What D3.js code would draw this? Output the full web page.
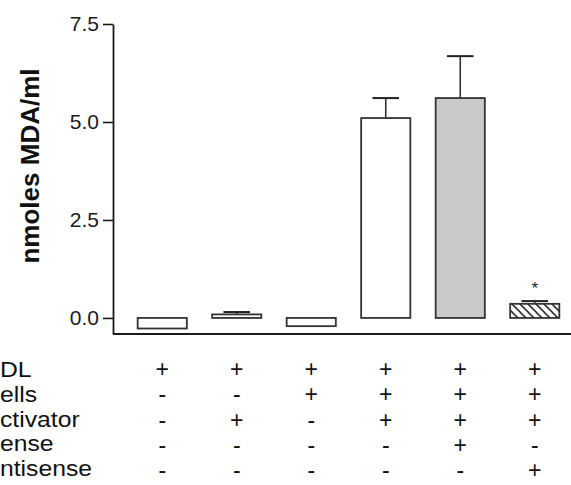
<!DOCTYPE html>
<html>
<head>
<meta charset="utf-8">
<script src="https://cdn.jsdelivr.net/npm/d3@7"></script>
<style>
  html, body { margin: 0; padding: 0; background: #fff; overflow: hidden; }
  svg { display: block; }
</style>
</head>
<body>
<div id="main"></div>
<script>
const width = 571;
const height = 485;

// data
const groups = ["g1", "g2", "g3", "g4", "g5", "g6"];
const values = [-0.27, 0.09, -0.21, 5.1, 5.61, 0.36];
const errors = [0, 0.06, 0, 0.51, 1.07, 0.07];
const fills = ["white", "white", "white", "white", "grey", "hatch"];
const marks = ["", "", "", "", "", "*"];
const yTicks = [0, 2.5, 5, 7.5];

// condition table under the chart (labels are cut at the left edge in the figure)
const rowLabels = ["DL", "ells", "ctivator", "ense", "ntisense"];
const rowSigns = [
  ["+", "+", "+", "+", "+", "+"],
  ["-", "-", "+", "+", "+", "+"],
  ["-", "+", "-", "+", "+", "+"],
  ["-", "-", "-", "-", "+", "-"],
  ["-", "-", "-", "-", "-", "+"],
];

const axisX = 113;
const font = "'Liberation Sans', Arial, sans-serif";
const svg = d3.select("#main").append("svg").attr("width", width).attr("height", height);

const defs = svg.append("defs");
const pat = defs
  .append("pattern")
  .attr("id", "hatch")
  .attr("patternUnits", "userSpaceOnUse")
  .attr("width", 8)
  .attr("height", 8);
pat.append("rect").attr("width", 8).attr("height", 8).attr("fill", "white");
pat
  .append("path")
  .attr("d", "M-2,-2 L10,10 M-2,6 L2,10 M6,-2 L10,2")
  .attr("stroke", "#333")
  .attr("stroke-width", 1.6);

const fillColor = { white: "white", grey: "#c9c9c9", hatch: "url(#hatch)" };

const xScale = d3.scaleBand().domain(groups).range([125, 572]).paddingInner(0.34).paddingOuter(0.17);
const yScale = d3.scaleLinear().domain([-0.41, 7.5]).range([334, 24]);

// y axis
const yAxis = d3
  .axisLeft(yScale)
  .tickValues(yTicks)
  .tickFormat(d3.format(".1f"))
  .tickSize(10)
  .tickSizeOuter(0)
  .tickPadding(4);

const gy = svg.append("g").attr("transform", `translate(${axisX},0)`).call(yAxis);
gy.select(".domain").attr("stroke", "#1a1a1a").attr("stroke-width", 1.8);
gy.selectAll(".tick line").attr("stroke", "#1a1a1a").attr("stroke-width", 1.6);
gy.selectAll(".tick text")
  .attr("fill", "#1a1a1a")
  .style("font-family", font)
  .style("font-size", "21px");

// x axis line (no ticks)
svg
  .append("line")
  .attr("x1", axisX)
  .attr("x2", width)
  .attr("y1", yScale.range()[0])
  .attr("y2", yScale.range()[0])
  .attr("stroke", "#1a1a1a")
  .attr("stroke-width", 1.8);

svg
  .append("text")
  .attr("transform", "translate(39, 166) rotate(-90)")
  .attr("text-anchor", "middle")
  .style("font-family", font)
  .style("font-size", "26px")
  .style("font-weight", "bold")
  .attr("fill", "#111")
  .text("nmoles MDA/ml");

const bars = groups.map((g, i) => ({ g, v: values[i], e: errors[i], f: fills[i], m: marks[i] }));

// error bars (drawn first, bar box sits on top)
const capW = xScale.bandwidth() * 0.54;
bars
  .filter((d) => d.e > 0)
  .forEach((d) => {
    const cx = xScale(d.g) + xScale.bandwidth() / 2;
    const top = yScale(d.v + d.e);
    svg
      .append("line")
      .attr("x1", cx)
      .attr("x2", cx)
      .attr("y1", yScale(d.v))
      .attr("y2", top)
      .attr("stroke", "#333")
      .attr("stroke-width", 1.6);
    svg
      .append("line")
      .attr("x1", cx - capW / 2)
      .attr("x2", cx + capW / 2)
      .attr("y1", top)
      .attr("y2", top)
      .attr("stroke", "#222")
      .attr("stroke-width", 2);
  });

svg
  .selectAll("rect.bar")
  .data(bars)
  .enter()
  .append("rect")
  .attr("class", "bar")
  .attr("x", (d) => xScale(d.g))
  .attr("width", xScale.bandwidth())
  .attr("y", (d) => yScale(Math.max(0, d.v)))
  .attr("height", (d) => Math.abs(yScale(d.v) - yScale(0)))
  .attr("fill", (d) => fillColor[d.f])
  .attr("stroke", "#333")
  .attr("stroke-width", 1.8);

svg
  .selectAll("text.mark")
  .data(bars.filter((d) => d.m))
  .enter()
  .append("text")
  .attr("class", "mark")
  .attr("x", (d) => xScale(d.g) + xScale.bandwidth() / 2)
  .attr("y", (d) => yScale(d.v + d.e) - 7)
  .attr("text-anchor", "middle")
  .style("font-family", font)
  .style("font-size", "17px")
  .attr("fill", "#222")
  .text((d) => d.m);

// condition table (the figure's lettering is a little wide, hence the x stretch)
const labelY = d3.scalePoint().domain(rowLabels).range([377, 476]);
const signY = d3.scalePoint().domain(rowLabels).range([377, 478]);
const stretch = "scale(1.15,1)";

svg
  .selectAll("text.rowlab")
  .data(rowLabels)
  .enter()
  .append("text")
  .attr("class", "rowlab")
  .attr("transform", (d) => `translate(0, ${labelY(d)}) ${stretch}`)
  .style("font-family", font)
  .style("font-size", "21.5px")
  .attr("fill", "#111")
  .text((d) => d);

rowLabels.forEach((lab, r) => {
  svg
    .selectAll(null)
    .data(rowSigns[r])
    .enter()
    .append("text")
    .attr("x", (d, i) => xScale(groups[i]) + xScale.bandwidth() / 2)
    .attr("y", signY(lab))
    .attr("text-anchor", "middle")
    .style("font-family", font)
    .style("font-size", "23px")
    .attr("fill", "#111")
    .text((d) => d);
});
</script>
</body>
</html>
